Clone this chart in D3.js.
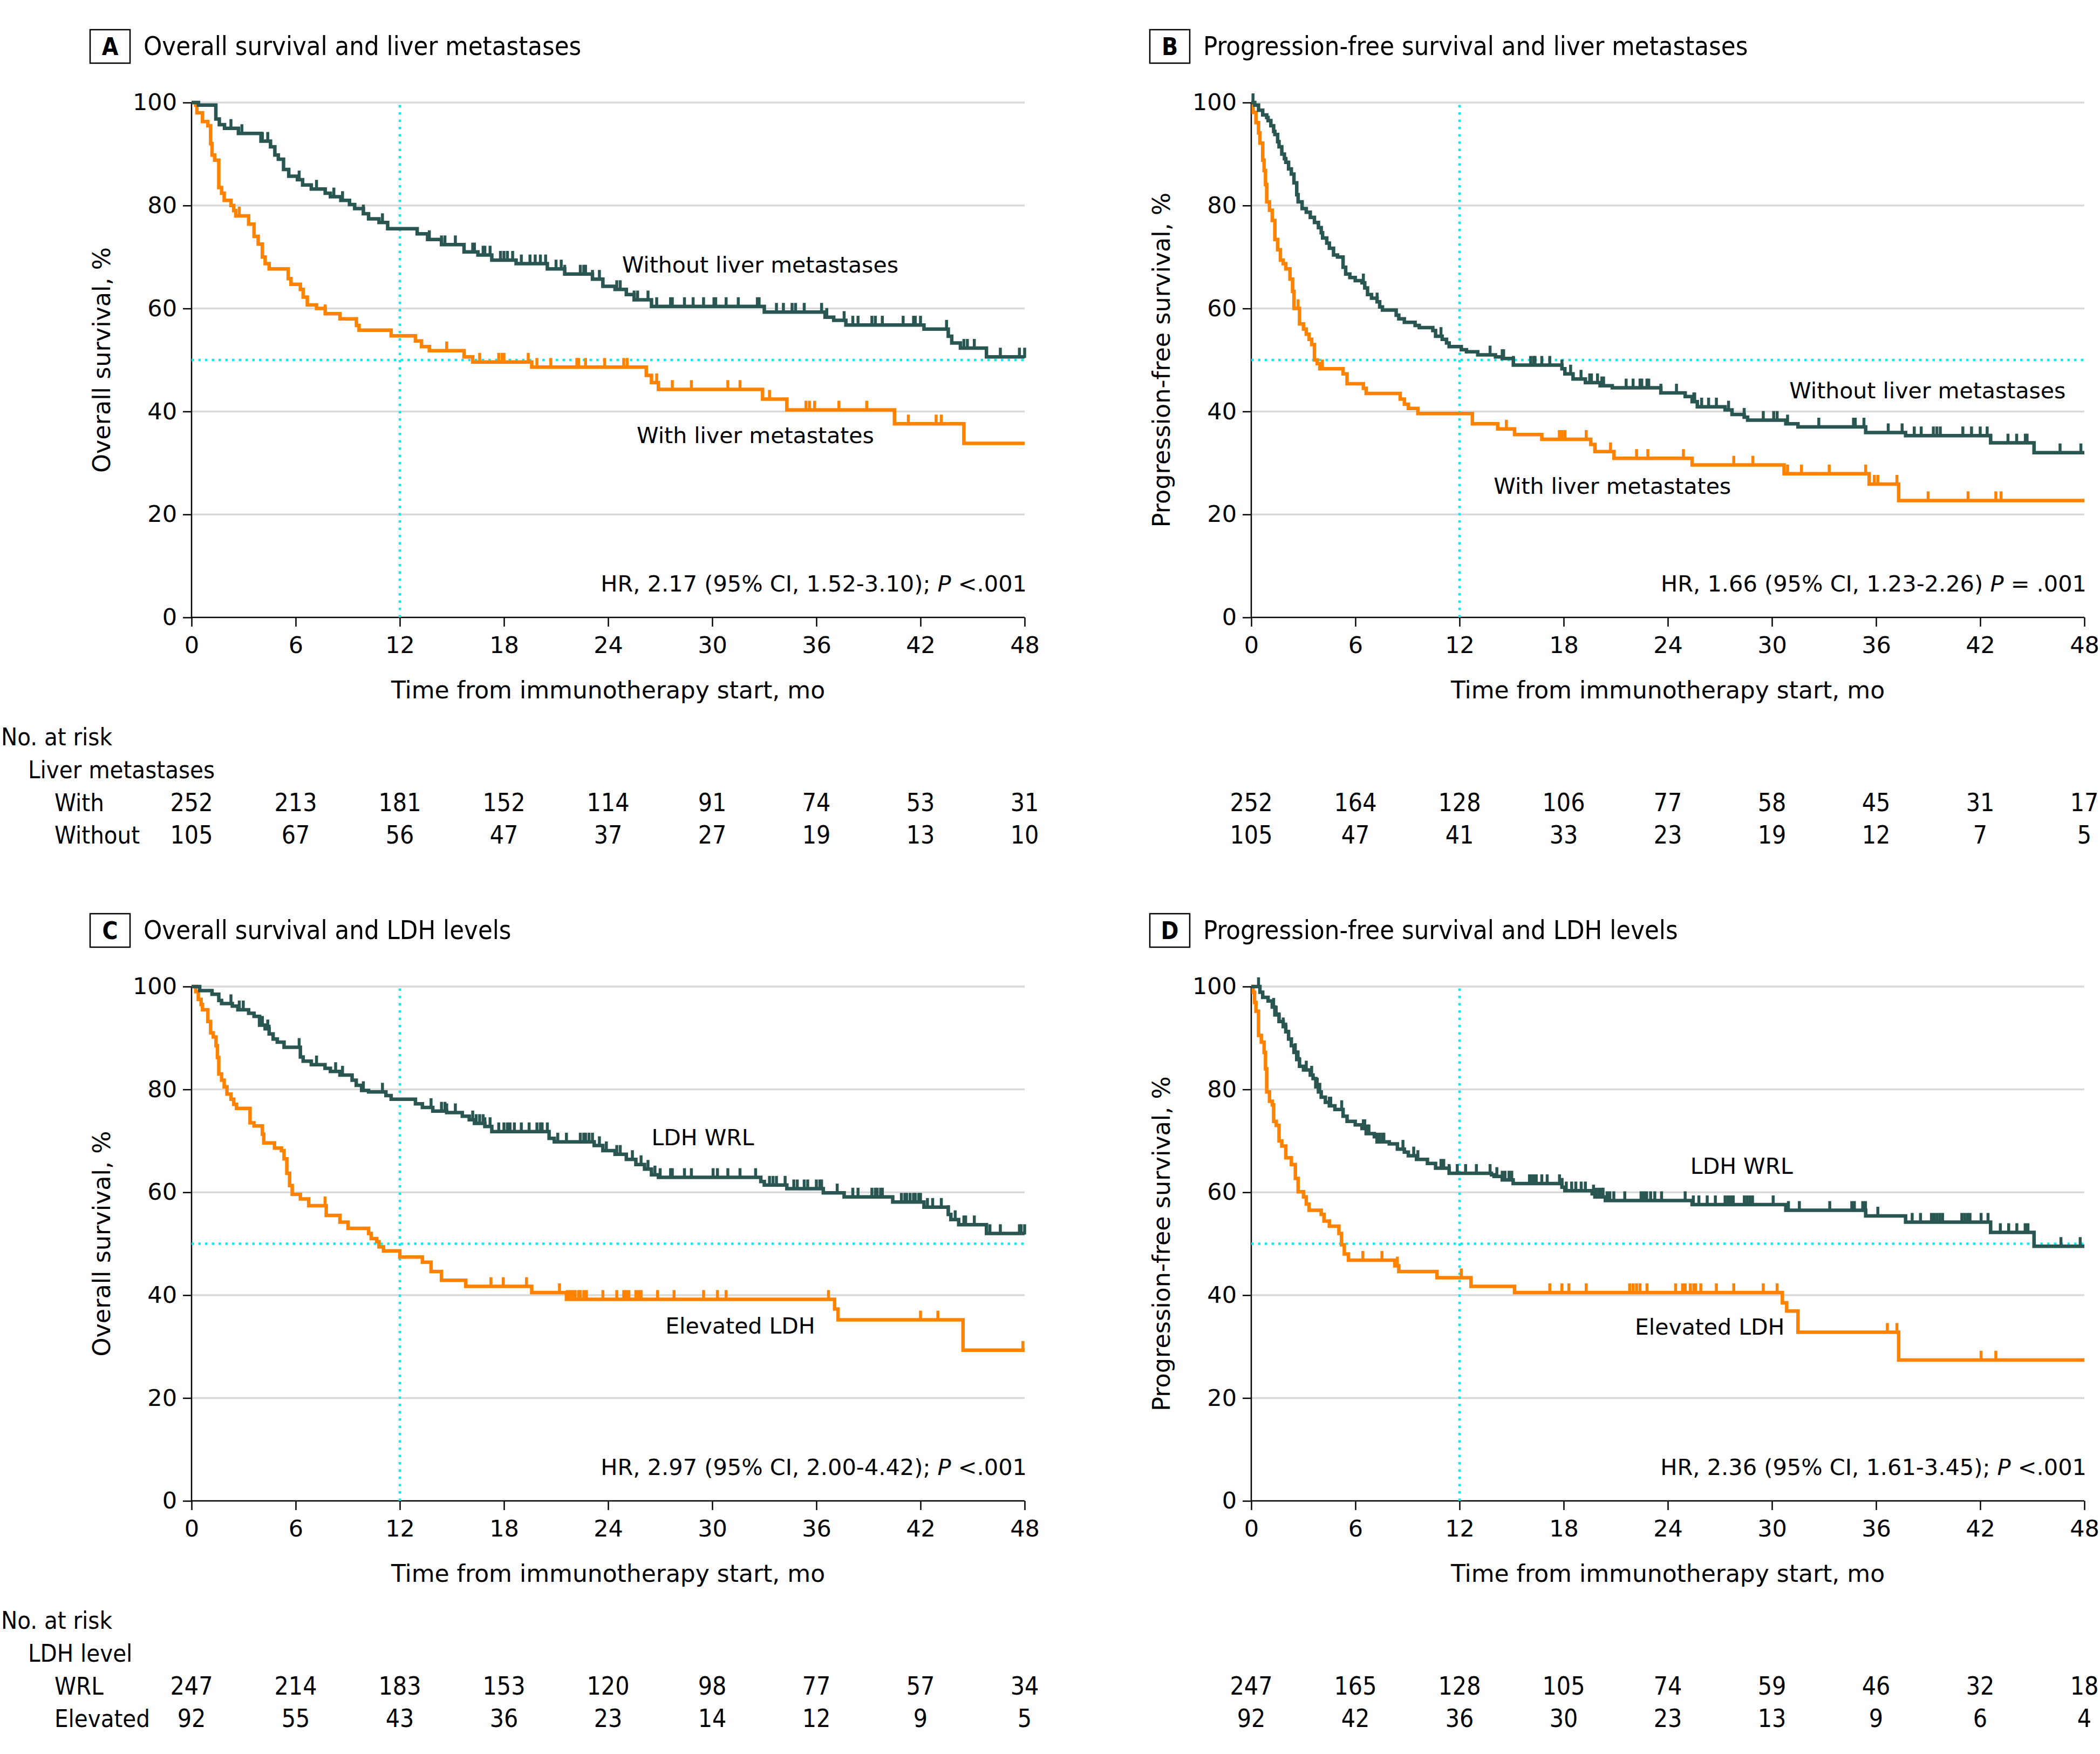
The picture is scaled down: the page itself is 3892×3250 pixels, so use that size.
<!DOCTYPE html>
<html><head><meta charset="utf-8">
<script src="https://cdn.jsdelivr.net/npm/d3@7"></script>
<style>
body{margin:0;background:#fff}
svg text{font-family:"DejaVu Sans",sans-serif;fill:#000}
.cond{font-family:"DejaVu Sans Condensed","DejaVu Sans",sans-serif !important;font-stretch:condensed}
</style>
</head><body>
<svg id="chart" width="3892" height="3250"></svg>
<script>
// ---------------- DATA ----------------
const timeTicks = [0, 6, 12, 18, 24, 30, 36, 42, 48];
const survTicks = [0, 20, 40, 60, 80, 100];

// Panel A: Overall survival, liver metastases
const A_with_t = [0.24,0.31,0.63,0.94,1.1,1.18,1.33,1.57,1.73,1.88,2.27,2.43,2.55,3.29,3.6,3.84,4.08,4.24,4.47,5.57,5.73,6.27,6.43,6.67,7.2,7.7,8.55,9.5,9.65,11.5,12.9,13.25,13.7,15.7,16.2,19.6,26.2,26.5,26.9,32.9,34.3,40.5,44.5];
const A_with_s = [99.5,98,96.3,95.5,92,89.8,88.8,83.5,82.4,81,80,79,78,76.4,74,72.5,70,68.7,67.7,65.8,64.7,63.7,62.2,60.7,60,59,58,56.7,55.8,54.7,53.7,52.6,51.8,50.6,49.6,48.6,47,45.6,44.3,42.4,40.3,37.6,33.8];
const A_with_cens = [2.75,7.7,14.7,16.6,17.7,17.9,18.0,19.4,19.9,20.7,22.2,22.3,22.7,23.8,24.9,25.1,26.8,27.7,28.8,30.9,31.6,33.3,35.4,35.6,35.9,37.3,38.9,41.3,42.9,43.2];
const A_without_t = [0.4,1.4,1.6,1.9,2.7,4.0,4.55,4.8,5.0,5.3,5.6,6.1,6.4,6.9,7.7,8.0,8.6,9.1,9.4,9.9,10.2,10.8,11.3,13.0,13.6,14.4,15.7,16.5,17.3,18.7,20.5,21.5,23.1,23.7,24.4,25.05,25.5,26.5,33.0,36.5,37.0,37.7,42.2,43.6,43.8,44.3,45.8];
const A_without_s = [99.5,96.8,95.7,95,94,92.5,91.4,89.8,89,87,85.7,85,84,83.2,82.4,81.7,81,80.2,79.4,78.4,77.4,76.7,75.5,74.5,73.4,72.4,71,70.4,69.4,68.7,67.7,66.7,65.7,64.3,63.7,62.7,61.7,60.4,59.3,58.3,57.7,56.8,56,54.6,53.3,52.3,50.6];
const A_without_cens = [2.27,2.9,4.08,4.39,6.2,7.2,8.2,8.7,9.9,11.0,13.7,14.4,14.6,15.2,16.2,16.3,16.8,16.9,17.2,17.8,18.0,18.2,18.5,19.0,19.5,19.8,20.1,20.4,21.0,21.3,21.5,22.4,22.6,22.7,23.1,23.5,24.5,24.7,25.5,25.7,26.3,26.8,27.6,27.7,28.4,28.9,29.5,30.1,30.2,30.8,31.5,32.6,32.7,33.7,34.1,34.6,34.8,35.3,36.3,36.6,37.6,38.1,38.4,39.2,39.4,39.8,41.0,41.6,41.7,42.0,43.5,44.5,44.7,45.1,46.6,47.7,48];

// Panel B: Progression-free survival, liver metastases
const B_with_t = [0.11,0.27,0.42,0.5,0.66,0.74,0.82,0.89,1.05,1.21,1.36,1.52,1.68,1.84,1.99,2.23,2.38,2.46,2.78,3.01,3.17,3.33,3.48,3.64,3.8,3.95,5.29,5.52,6.46,6.62,8.58,8.82,9.05,9.6,12.74,14.2,15.17,16.74,19.56,19.8,20.9,25.4,30.7,35.6,37.3];
const B_with_s = [98.1,96.1,94.1,92.1,88.8,86.8,84.1,80.7,79.1,77.1,73.4,71.4,69.4,68.7,67.7,65.7,63.3,60,57,56,55,54,53,50,49.3,48.3,47.3,45.4,44.5,43.5,42.4,41.4,40.6,39.6,37.6,36.6,35.5,34.6,33.6,32.2,30.9,29.6,27.9,25.9,22.7];
const B_with_cens = [2.7,4.1,14.7,17.75,17.9,18.07,19.3,20.7,22.2,22.85,24.9,27.8,28.9,30.9,31.7,33.3,35.4,35.9,36.1,37.2,39.0,41.3,42.9,43.2];
const B_without_t = [0.2,0.42,0.66,0.89,0.97,1.13,1.29,1.36,1.52,1.6,1.76,1.91,1.99,2.15,2.31,2.46,2.62,2.7,2.93,3.17,3.4,3.64,3.87,4.03,4.11,4.35,4.5,4.74,4.97,5.29,5.44,5.68,5.99,6.38,6.54,6.7,6.93,7.25,7.4,7.56,8.35,8.5,8.82,9.44,9.68,10.46,10.62,11.0,11.25,11.4,12.1,12.4,13.05,14.07,14.46,15.1,17.9,18.07,18.54,19.25,20.1,20.8,23.6,25.0,25.4,25.7,27.3,27.7,28.4,28.6,30.8,31.5,35.4,37.7,42.6,45.1];
const B_without_s = [99.5,98.5,97.6,97.1,96.5,95.5,94.4,93.8,92.4,91.4,90,89.1,88.4,87.1,86.1,84.4,82.1,80.7,79.4,78.7,77.7,76.7,75.7,74.7,73.7,72.7,71.7,70.4,70,68,66.7,66,65.4,65,64,62.7,62,61.3,60.3,59.7,58.7,58,57.3,56.7,56.3,55.7,54.6,54,53.3,52.6,52,51.6,51,50.6,50.3,49,48.3,47.3,46.3,45.6,45,44.6,43.6,42.9,41.9,40.9,40.3,39.4,38.9,38.3,37.6,37,35.9,35.3,33.9,32];
const B_without_cens = [0.1,6.46,7.25,10.93,13.76,14.46,14.54,15.1,16.1,16.27,16.35,16.74,17.2,17.9,18.4,19.0,19.5,19.6,19.95,20.2,20.3,21.6,22.0,22.4,22.5,22.8,22.9,23.6,24.5,25.5,25.55,25.95,26.35,26.8,27.5,28.4,29.5,30.1,30.3,30.9,32.7,34.7,34.8,35.3,36.7,37.5,38.2,38.6,39.3,39.5,39.7,41.0,41.5,42.0,42.4,42.6,43.6,44.1,44.6,44.7,46.6,47.8];

// Panel C: Overall survival, LDH levels
const C_elev_t = [0.24,0.39,0.55,0.63,0.94,1.1,1.25,1.41,1.49,1.57,1.73,1.88,2.04,2.27,2.43,2.59,3.37,3.6,4.08,4.16,4.78,5.18,5.33,5.49,5.65,5.8,6.27,6.75,7.76,8.55,9.02,10.2,10.35,10.67,10.8,11.06,12.0,13.3,13.8,14.4,15.8,19.6,21.6,37.05,37.25,44.45];
const C_elev_s = [99,97.5,96.5,95.5,93.2,91,90.2,88.5,86.2,83,81.8,80.5,79.1,78.1,77.1,76.3,73.5,72.9,71.3,69.6,68.6,68.1,66.5,63.7,61.3,59.6,58.7,57.4,55.5,54.2,53,52,51,50.4,49.4,48.6,47.4,46.4,44.6,42.9,41.7,40.5,39.2,37.3,35.2,29.3];
const C_elev_cens = [7.69,17.25,17.96,19.3,21.2,21.65,21.8,21.96,22.1,22.3,22.4,22.6,22.75,23.7,24.5,24.9,25.05,25.2,25.6,25.75,25.9,26.85,27.8,29.5,30.3,30.8,36.7,37.25,42.0,43.0,47.9];
const C_wrl_t = [0.47,1.18,1.57,1.73,2.35,2.67,3.29,3.6,3.92,4.24,4.47,4.7,4.94,5.33,6.27,6.43,6.9,7.69,8.0,8.55,9.25,9.49,9.8,10.2,11.2,11.5,12.9,13.3,13.9,14.7,15.6,16.0,16.3,16.9,17.3,20.6,20.9,23.2,23.7,24.4,25.05,25.6,26.1,26.5,26.9,32.8,33.0,34.3,36.4,37.6,40.4,42.2,43.6,43.75,44.2,45.8];
const C_wrl_s = [99.2,98.5,97.3,96.7,96.2,95.5,94.8,94.2,92.5,91.8,90.8,89.8,89.2,88.2,86.3,85.5,84.8,84.1,83.5,82.8,81.8,80.8,79.8,79.5,78.8,78.1,77.2,76.5,75.8,75.5,74.8,74.1,73.4,72.8,71.8,70.5,69.8,69.1,68.1,67.4,66.4,65.4,64.5,63.4,62.9,62.1,61.4,60.7,59.9,59.1,58.1,57.1,55.7,54.7,53.7,52];
const C_wrl_cens = [2.27,2.75,2.98,4.08,4.39,4.47,6.2,7.2,8.3,8.7,9.9,11.0,13.8,14.4,14.6,14.7,15.2,16.2,16.4,16.6,16.8,16.9,17.2,17.7,18.0,18.2,18.35,18.6,19.0,19.45,19.9,20.1,20.2,20.5,21.1,21.6,22.4,22.6,22.7,22.9,23.1,23.5,23.9,24.5,24.7,25.4,25.9,26.3,26.7,27.0,27.6,27.7,28.4,28.8,30.05,30.3,30.9,31.6,32.5,33.3,33.5,33.7,34.2,34.7,34.9,35.3,35.5,36.0,36.2,36.3,37.2,38.1,38.4,39.2,39.4,39.5,39.7,39.8,40.9,41.1,41.2,41.4,41.6,41.7,41.9,42.0,42.4,42.7,43.2,43.6,44.0,44.5,44.6,45.1,46.0,46.6,47.7,47.8,48];

// Panel D: Progression-free survival, LDH levels
const D_elev_t = [0.11,0.19,0.27,0.42,0.58,0.74,0.82,0.89,1.05,1.21,1.29,1.44,1.6,1.76,1.99,2.31,2.54,2.7,3.01,3.17,3.33,4.03,4.19,4.5,5.05,5.2,5.36,5.6,8.27,8.5,10.7,12.66,15.17,30.6,30.85,31.5,37.3];
const D_elev_s = [98.9,96.9,95.2,90.5,89.2,87.2,84,79.5,77.7,77,73.8,73,70,69,66.7,65.4,62.7,60.1,59.1,57.7,56.5,55.7,54.4,53.4,52,49.8,48,46.8,45.7,44.6,43.4,41.7,40.5,38.5,36.9,32.8,27.4];
const D_elev_cens = [6.43,7.53,8.42,12.1,17.2,17.9,18.3,19.3,21.8,22.0,22.2,22.4,22.8,24.45,24.85,25.0,25.3,25.5,25.6,25.9,26.8,27.8,29.5,30.3,36.65,37.2,42.05,42.9];
const D_wrl_t = [0.5,0.66,0.97,1.21,1.36,1.6,1.84,1.99,2.15,2.31,2.46,2.62,2.78,3.01,3.4,3.56,3.72,3.87,4.03,4.27,4.5,4.82,5.29,5.52,5.99,6.38,6.62,7.09,7.25,7.95,8.42,8.82,9.05,9.52,10.15,10.62,11.4,13.84,13.99,14.46,15.09,17.9,18.07,19.64,19.8,20.4,25.4,30.8,35.4,37.7,42.6,45.1];
const D_wrl_s = [98.9,97.9,97.2,96,94.5,93.2,92.2,91.2,89.8,88.5,87.2,85.8,84.5,83.8,82.8,82.1,80.5,79.5,78.5,77.5,76.8,76.1,74.8,73.8,73.1,72.4,71.4,70.8,69.8,69.4,68.4,67.8,67.1,66.4,65.6,64.7,63.7,63.4,63.1,62.4,61.7,61,60.3,59.7,59.1,58.4,57.6,56.5,55.4,54.2,52.2,49.5];
const D_wrl_cens = [0.42,1.29,1.44,1.6,1.84,1.99,2.15,2.54,2.7,2.78,3.17,3.48,3.8,3.95,4.5,4.58,5.21,6.46,6.54,6.7,6.78,7.25,7.4,7.56,7.64,8.74,9.36,9.6,10.93,11.09,11.4,11.87,12.35,12.97,13.76,14.15,14.46,14.62,14.85,15.01,16.03,16.11,16.27,16.42,16.74,17.05,17.76,17.91,18.15,18.46,18.7,19.01,19.25,19.72,19.87,20.03,20.19,20.27,20.5,20.66,20.89,21.52,22.46,22.62,22.78,23.01,23.25,23.64,25.0,25.47,25.79,26.27,26.74,27.3,27.46,27.62,27.77,28.41,28.57,28.73,28.88,30.07,30.95,31.58,33.33,34.6,34.75,35.23,35.39,36.1,38.08,38.56,39.19,39.35,39.51,39.67,39.83,40.94,41.1,41.26,41.41,42.05,42.45,42.6,43.16,43.64,44.11,44.59,44.75,46.65,47.76];

// Numbers at risk
const A_risk_with = [252,213,181,152,114,91,74,53,31];
const A_risk_without = [105,67,56,47,37,27,19,13,10];
const B_risk_with = [252,164,128,106,77,58,45,31,17];
const B_risk_without = [105,47,41,33,23,19,12,7,5];
const C_risk_wrl = [247,214,183,153,120,98,77,57,34];
const C_risk_elev = [92,55,43,36,23,14,12,9,5];
const D_risk_wrl = [247,165,128,105,74,59,46,32,18];
const D_risk_elev = [92,42,36,30,23,13,9,6,4];

// ---------------- STYLE / LAYOUT ----------------
const ORANGE = "#ff8200", GREEN = "#2a5652", CYAN = "#12e8f0", GRID = "#d9d9d9";

const panels = [
  {key:"A", title:"Overall survival and liver metastases", ytitle:"Overall survival, %",
   x0:355, x1:1899, yTop:190, yBot:1144,
   series:[{t:A_with_t,s:A_with_s,c:A_with_cens,color:ORANGE},{t:A_without_t,s:A_without_s,c:A_without_cens,color:GREEN}],
   labels:[{text:"Without liver metastases",t:24.8,s:67.0},{text:"With liver metastates",t:25.65,s:33.9}],
   hr:["HR, 2.17 (95% CI, 1.52-3.10); ","P"," <.001"],
   risk:{head:"Liver metastases", rows:[["With",A_risk_with],["Without",A_risk_without]], showLabels:true}},
  {key:"B", title:"Progression-free survival and liver metastases", ytitle:"Progression-free survival, %",
   x0:2319, x1:3863, yTop:190, yBot:1144,
   series:[{t:B_with_t,s:B_with_s,c:B_with_cens,color:ORANGE},{t:B_without_t,s:B_without_s,c:B_without_cens,color:GREEN}],
   labels:[{text:"Without liver metastases",t:31.0,s:42.6},{text:"With liver metastates",t:13.97,s:24.0}],
   hr:["HR, 1.66 (95% CI, 1.23-2.26) ","P"," = .001"],
   risk:{head:null, rows:[["With",B_risk_with],["Without",B_risk_without]], showLabels:false}},
  {key:"C", title:"Overall survival and LDH levels", ytitle:"Overall survival, %",
   x0:355, x1:1899, yTop:1828, yBot:2781,
   series:[{t:C_elev_t,s:C_elev_s,c:C_elev_cens,color:ORANGE},{t:C_wrl_t,s:C_wrl_s,c:C_wrl_cens,color:GREEN}],
   labels:[{text:"LDH WRL",t:26.5,s:69.1},{text:"Elevated LDH",t:27.3,s:32.5}],
   hr:["HR, 2.97 (95% CI, 2.00-4.42); ","P"," <.001"],
   risk:{head:"LDH level", rows:[["WRL",C_risk_wrl],["Elevated",C_risk_elev]], showLabels:true}},
  {key:"D", title:"Progression-free survival and LDH levels", ytitle:"Progression-free survival, %",
   x0:2319, x1:3863, yTop:1828, yBot:2781,
   series:[{t:D_elev_t,s:D_elev_s,c:D_elev_cens,color:ORANGE},{t:D_wrl_t,s:D_wrl_s,c:D_wrl_cens,color:GREEN}],
   labels:[{text:"LDH WRL",t:25.3,s:63.6},{text:"Elevated LDH",t:22.1,s:32.3}],
   hr:["HR, 2.36 (95% CI, 1.61-3.45); ","P"," <.001"],
   risk:{head:null, rows:[["WRL",D_risk_wrl],["Elevated",D_risk_elev]], showLabels:false}}
];

const svg = d3.select("#chart");
svg.append("rect").attr("width",3892).attr("height",3250).attr("fill","#fff");

function stepValue(t, ts, ss){ let v = 100; for(let i=0;i<ts.length;i++){ if(ts[i] <= t) v = ss[i]; } return v; }

panels.forEach(p => {
  const x = d3.scaleLinear().domain([0,48]).range([p.x0,p.x1]);
  const y = d3.scaleLinear().domain([0,100]).range([p.yBot,p.yTop]);
  const g = svg.append("g");

  // gridlines
  g.append("g").selectAll("line").data(survTicks.filter(d=>d>0)).join("line")
    .attr("x1",x(0)).attr("x2",x(48)).attr("y1",d=>y(d)).attr("y2",d=>y(d))
    .attr("stroke",GRID).attr("stroke-width",3.5);

  // axes
  const xa = g.append("g").attr("transform",`translate(0,${p.yBot})`)
    .call(d3.axisBottom(x).tickValues(timeTicks).tickSize(17).tickPadding(18).tickFormat(d3.format("d")));
  const ya = g.append("g").attr("transform",`translate(${p.x0},0)`)
    .call(d3.axisLeft(y).tickValues(survTicks).tickSize(16).tickPadding(11).tickFormat(d3.format("d")));
  [xa,ya].forEach(a=>{
    a.select(".domain").attr("stroke","#000").attr("stroke-width",2.5);
    a.selectAll(".tick line").attr("stroke","#000").attr("stroke-width",2.5);
    a.selectAll(".tick text").attr("font-size",43).attr("font-family","DejaVu Sans").attr("fill","#000");
  });
  ya.select(".domain").attr("d",`M0,${p.yBot}V${p.yTop}`);
  xa.select(".domain").attr("d",`M${p.x0},0H${p.x1}`);

  // reference lines (12 mo, 50%)
  g.append("line").attr("x1",x(12)).attr("x2",x(12)).attr("y1",y(0)).attr("y2",y(100))
    .attr("stroke",CYAN).attr("stroke-width",4.5).attr("stroke-dasharray","4.5 9");
  g.append("line").attr("x1",x(0)).attr("x2",x(48)).attr("y1",y(50)).attr("y2",y(50))
    .attr("stroke",CYAN).attr("stroke-width",4.5).attr("stroke-dasharray","4.5 8");

  // KM curves
  const line = d3.line().x(d=>x(d[0])).y(d=>y(d[1])).curve(d3.curveStepAfter);
  p.series.forEach(se => {
    const pts = [[0,100]].concat(se.t.map((t,i)=>[t,se.s[i]]));
    pts.push([48, se.s[se.s.length-1]]);
    g.append("path").attr("d",line(pts)).attr("fill","none")
      .attr("stroke",se.color).attr("stroke-width",6.5).attr("stroke-linejoin","miter").attr("stroke-linecap","butt");
    g.append("g").selectAll("line").data(se.c).join("line")
      .attr("x1",d=>x(d)).attr("x2",d=>x(d))
      .attr("y1",d=>y(stepValue(d,se.t,se.s))+2).attr("y2",d=>y(stepValue(d,se.t,se.s))-17)
      .attr("stroke",se.color).attr("stroke-width",5.5);
  });

  // in-plot labels
  p.labels.forEach(l => {
    g.append("text").attr("x",x(l.t)).attr("y",y(l.s)).attr("font-size",41).text(l.text);
  });

  // HR text
  const hr = g.append("text").attr("x",x(48)+4).attr("y",p.yBot-48).attr("text-anchor","end").attr("font-size",41.5);
  hr.append("tspan").text(p.hr[0]);
  hr.append("tspan").attr("font-style","italic").text(p.hr[1]);
  hr.append("tspan").text(p.hr[2]);

  // axis titles
  g.append("text").attr("x",(p.x0+p.x1)/2).attr("y",p.yBot+150).attr("text-anchor","middle")
    .attr("font-size",44).text("Time from immunotherapy start, mo");
  g.append("text").attr("transform",`translate(${p.x0-151},${(p.yTop+p.yBot)/2}) rotate(-90)`)
    .attr("text-anchor","middle").attr("font-size",44.5).text(p.ytitle);

  // panel title
  g.append("rect").attr("x",p.x0-188).attr("y",p.yTop-135).attr("width",74).attr("height",62)
    .attr("fill","#fff").attr("stroke","#000").attr("stroke-width",2.5);
  g.append("text").attr("class","cond").attr("x",p.x0-151).attr("y",p.yTop-88).attr("text-anchor","middle")
    .attr("font-size",44).attr("font-weight","bold").text(p.key);
  g.append("text").attr("class","cond").attr("x",p.x0-89).attr("y",p.yTop-88)
    .attr("font-size",48.5).text(p.title);

  // numbers at risk
  const rk = g.append("g").attr("class","cond");
  if(p.risk.showLabels){
    rk.append("text").attr("class","cond").attr("x",2).attr("y",p.yBot+237).attr("font-size",45).text("No. at risk");
    rk.append("text").attr("class","cond").attr("x",52).attr("y",p.yBot+298).attr("font-size",45).text(p.risk.head);
  }
  p.risk.rows.forEach((r,ri) => {
    const yy = p.yBot + 359 + ri*60;
    if(p.risk.showLabels){
      rk.append("text").attr("class","cond").attr("x",101).attr("y",yy).attr("font-size",45).text(r[0]);
    }
    rk.selectAll(null).data(r[1]).join("text").attr("class","cond")
      .attr("x",(d,i)=>x(timeTicks[i])).attr("y",yy).attr("text-anchor","middle")
      .attr("font-size",46).text(d=>d);
  });
});
</script>
</body></html>
